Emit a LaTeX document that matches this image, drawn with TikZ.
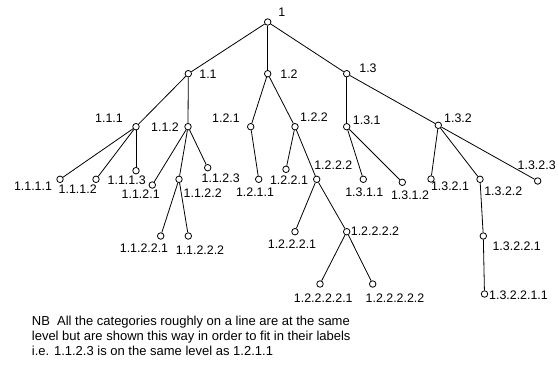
\documentclass[tikz,border=0pt]{standalone}
\usepackage{fontspec}
\setmainfont{Liberation Sans}
\begin{document}
\begin{tikzpicture}[x=1pt,y=-1pt,
  vtx/.style={circle,draw=black,fill=white,line width=0.8pt,minimum size=6.5pt,inner sep=0pt},
  lbl/.style={inner sep=0pt,font=\fontsize{12.4}{14}\selectfont},
  edge/.style={line width=0.8pt,black},
  note/.style={inner sep=0pt,anchor=base west,font=\fontsize{13}{15}\selectfont}]
\useasboundingbox (0,0) rectangle (558,365);
% nodes
\node[vtx] (n1) at (267.7,22) {};
\node[vtx] (n11) at (188.3,73.7) {};
\node[vtx] (n12) at (267.7,73.7) {};
\node[vtx] (n13) at (346.7,73.7) {};
\node[vtx] (n111) at (136,126.7) {};
\node[vtx] (n112) at (188,126.7) {};
\node[vtx] (n121) at (250.7,126.7) {};
\node[vtx] (n122) at (295,126.7) {};
\node[vtx] (n131) at (346.7,126.7) {};
\node[vtx] (n132) at (438.3,125.3) {};
\node[vtx] (n1111) at (60,179.3) {};
\node[vtx] (n1112) at (96,179.3) {};
\node[vtx] (n1113) at (136,170.7) {};
\node[vtx] (n1121) at (152.3,185) {};
\node[vtx] (n1122) at (179,179.3) {};
\node[vtx] (n1123) at (207.7,167.7) {};
\node[vtx] (n1211) at (258.7,179.3) {};
\node[vtx] (n1221) at (286,169.3) {};
\node[vtx] (n1222) at (316.7,179.3) {};
\node[vtx] (n1311) at (363.3,179.3) {};
\node[vtx] (n1312) at (402.3,182.3) {};
\node[vtx] (n1321) at (431,179) {};
\node[vtx] (n1322) at (480,179.3) {};
\node[vtx] (n1323) at (537.7,181) {};
\node[vtx] (n11221) at (160.7,236) {};
\node[vtx] (n11222) at (188.3,236) {};
\node[vtx] (n12221) at (295,231.7) {};
\node[vtx] (n12222) at (346.7,231.7) {};
\node[vtx] (n13221) at (483.3,236) {};
\node[vtx] (n122221) at (320,284) {};
\node[vtx] (n122222) at (372.7,284) {};
\node[vtx] (n132211) at (484.5,294) {};
% edges
\draw[edge] (n1) -- (n11); \draw[edge] (n1) -- (n12); \draw[edge] (n1) -- (n13);
\draw[edge] (n11) -- (n111); \draw[edge] (n11) -- (n112);
\draw[edge] (n12) -- (n121); \draw[edge] (n12) -- (n122);
\draw[edge] (n13) -- (n131); \draw[edge] (n13) -- (n132);
\draw[edge] (n111) -- (n1111); \draw[edge] (n111) -- (n1112); \draw[edge] (n111) -- (n1113);
\draw[edge] (n112) -- (n1121); \draw[edge] (n112) -- (n1122); \draw[edge] (n112) -- (n1123);
\draw[edge] (n121) -- (n1211);
\draw[edge] (n122) -- (n1221); \draw[edge] (n122) -- (n1222);
\draw[edge] (n131) -- (n1311); \draw[edge] (n131) -- (n1312);
\draw[edge] (n132) -- (n1321); \draw[edge] (n132) -- (n1322); \draw[edge] (n132) -- (n1323);
\draw[edge] (n1122) -- (n11221); \draw[edge] (n1122) -- (n11222);
\draw[edge] (n1222) -- (n12221); \draw[edge] (n1222) -- (n12222);
\draw[edge] (n1322) -- (n13221);
\draw[edge] (n12222) -- (n122221); \draw[edge] (n12222) -- (n122222);
\draw[edge] (n13221) -- (n132211);
% labels
\node[lbl] (l1) at (281.7,12.7) {1};
\node[lbl] (l11) at (208,74) {1.1};
\node[lbl] (l12) at (289,74) {1.2};
\node[lbl] (l13) at (368,68) {1.3};
\node[lbl] (l111) at (109,118) {1.1.1};
\node[lbl] (l112) at (165,127) {1.1.2};
\node[lbl] (l121) at (226,118) {1.2.1};
\node[lbl] (l122) at (314,117) {1.2.2};
\node[lbl] (l131) at (366.7,120.7) {1.3.1};
\node[lbl] (l132) at (458,118) {1.3.2};
\node[lbl] (l1111) at (33,186.7) {1.1.1.1};
\node[lbl] (l1112) at (77.7,189.3) {1.1.1.2};
\node[lbl] (l1113) at (126.7,180.7) {1.1.1.3};
\node[lbl] (l1121) at (140.7,194.3) {1.1.2.1};
\node[lbl] (l1122) at (202.7,192.7) {1.1.2.2};
\node[lbl] (l1123) at (220.7,178.3) {1.1.2.3};
\node[lbl] (l1211) at (255,191.7) {1.2.1.1};
\node[lbl] (l1221) at (289,180) {1.2.2.1};
\node[lbl] (l1222) at (333.3,165) {1.2.2.2};
\node[lbl] (l1311) at (364.3,192.7) {1.3.1.1};
\node[lbl] (l1312) at (410,195) {1.3.1.2};
\node[lbl] (l1321) at (450,186) {1.3.2.1};
\node[lbl] (l1322) at (503.3,191) {1.3.2.2};
\node[lbl] (l1323) at (536.7,165.7) {1.3.2.3};
\node[lbl] (l11221) at (144,248.3) {1.1.2.2.1};
\node[lbl] (l11222) at (200,250) {1.1.2.2.2};
\node[lbl] (l12221) at (292,244) {1.2.2.2.1};
\node[lbl] (l12222) at (375,230.7) {1.2.2.2.2};
\node[lbl] (l13221) at (516.7,246) {1.3.2.2.1};
\node[lbl] (l122221) at (323.3,298.3) {1.2.2.2.2.1};
\node[lbl] (l122222) at (395,298.3) {1.2.2.2.2.2};
\node[lbl] (l132211) at (518.5,295) {1.3.2.2.1.1};
% note
\node[note] (t1) at (31.7,325.5) {NB\ \ All the categories roughly on a line are at the same};
\node[note] (t2) at (31.7,340.5) {level but are shown this way in order to fit in their labels};
\node[note] (t3) at (31.7,355.5) {i.e. 1.1.2.3 is on the same level as 1.2.1.1};
\end{tikzpicture}
\end{document}
